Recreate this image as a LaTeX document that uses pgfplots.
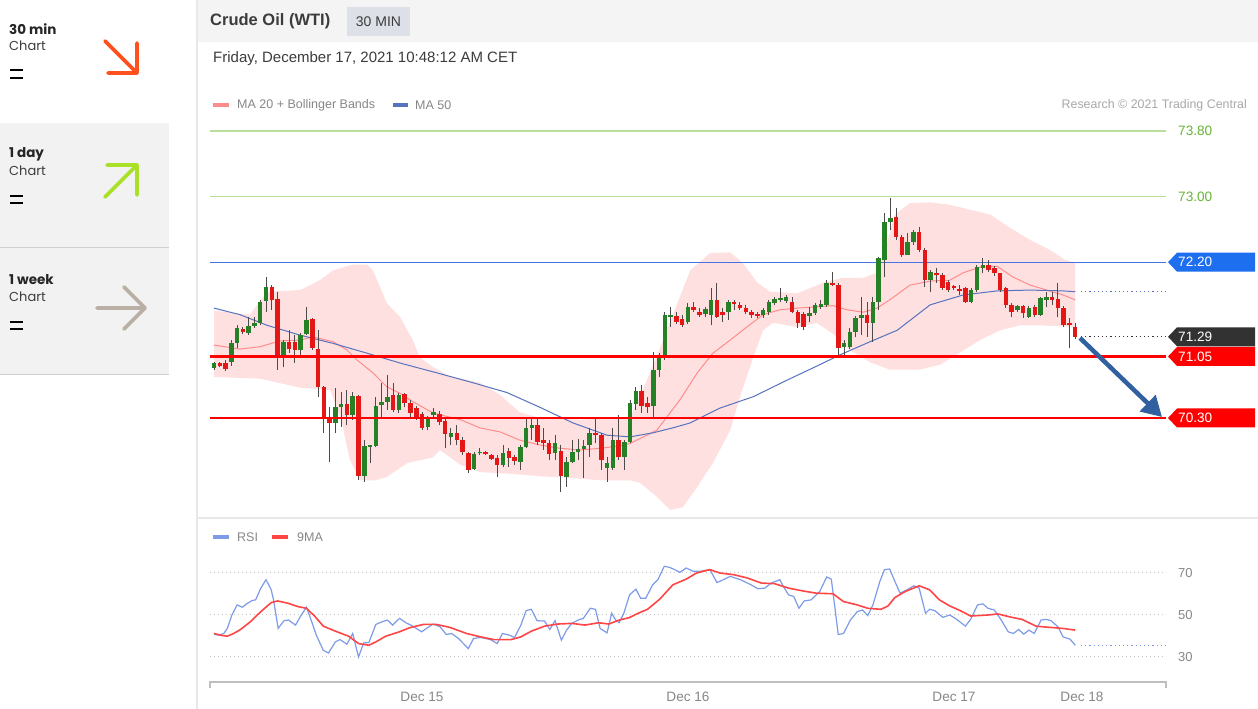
\documentclass[border=0pt]{standalone}
\usepackage{fontspec}
\setmainfont{Liberation Sans}
\newfontfamily\pop{Poppins}
\usepackage{pgfplots}
\pgfplotsset{compat=1.18}
\usepackage{pgfplotstable}
\usetikzlibrary{arrows.meta}
\newcommand{\fs}[1]{\fontsize{#1}{#1}\selectfont}

\definecolor{cgreen}{RGB}{38,128,38}
\definecolor{cred}{RGB}{228,22,22}
\definecolor{cwick}{RGB}{75,75,75}
\definecolor{bbfill}{RGB}{255,224,224}
\definecolor{ma20}{RGB}{255,140,140}
\definecolor{ma50}{RGB}{85,115,190}
\definecolor{lgreen}{RGB}{185,224,155}
\definecolor{tgreen}{RGB}{105,180,55}
\definecolor{lblue}{RGB}{70,115,225}
\definecolor{bblue}{RGB}{30,110,240}
\definecolor{dbox}{RGB}{50,50,50}
\definecolor{rline}{RGB}{255,0,0}
\definecolor{arrowc}{RGB}{48,96,160}
\definecolor{rsi}{RGB}{125,155,232}
\definecolor{nma}{RGB}{255,70,70}
\definecolor{txt}{RGB}{60,60,60}
\definecolor{gtxt}{RGB}{135,135,135}
\definecolor{ltxt}{RGB}{168,168,168}
\definecolor{gridc}{RGB}{195,195,195}
\definecolor{panel}{RGB}{242,242,242}
\definecolor{hdr}{RGB}{244,244,245}
\definecolor{tagbg}{RGB}{221,224,230}
\definecolor{sepc}{RGB}{208,208,208}
\definecolor{vline}{RGB}{232,232,232}
\definecolor{axc}{RGB}{190,190,190}
\definecolor{aorange}{RGB}{255,80,30}
\definecolor{agreen}{RGB}{170,225,40}
\definecolor{agrey}{RGB}{185,175,165}

% all candles: index, open, high, low, close
\pgfplotstableread{
i o h l c
0 70.91 70.98 70.89 70.97
1 70.97 70.98 70.92 70.93
2 70.97 71.01 70.87 70.90
3 70.98 71.25 70.93 71.21
4 71.21 71.43 71.15 71.40
5 71.39 71.41 71.32 71.35
6 71.34 71.53 71.31 71.42
7 71.42 71.53 71.40 71.46
8 71.46 71.74 71.43 71.71
9 71.73 72.02 71.59 71.90
10 71.90 71.92 71.62 71.74
11 71.75 71.84 70.89 71.04
12 71.07 71.25 70.92 71.23
13 71.23 71.37 71.09 71.14
14 71.23 71.31 70.97 71.13
15 71.13 71.34 71.07 71.31
16 71.32 71.65 71.31 71.50
17 71.51 71.52 71.13 71.15
18 71.14 71.37 70.56 70.68
19 70.68 70.69 70.12 70.30
20 70.31 70.43 69.76 70.24
21 70.24 70.67 70.12 70.43
22 70.43 70.62 70.19 70.47
23 70.47 70.64 70.21 70.34
24 70.34 70.62 70.28 70.57
25 70.57 70.58 69.54 69.59
26 69.59 70.03 69.52 69.96
27 69.95 69.97 69.75 69.97
28 69.96 70.56 69.95 70.45
29 70.46 70.73 70.31 70.50
30 70.50 70.82 70.40 70.56
31 70.58 70.73 70.37 70.40
32 70.40 70.61 70.36 70.58
33 70.59 70.61 70.43 70.48
34 70.48 70.52 70.31 70.36
35 70.42 70.45 70.28 70.31
36 70.35 70.37 70.15 70.18
37 70.19 70.32 70.15 70.29
38 70.34 70.42 70.31 70.37
39 70.35 70.38 70.21 70.25
40 70.26 70.31 69.93 70.10
41 70.07 70.18 69.97 70.12
42 70.12 70.21 69.97 70.03
43 70.03 70.07 69.85 69.88
44 69.87 69.88 69.63 69.67
45 69.68 69.88 69.67 69.86
46 69.87 69.93 69.85 69.88
47 69.88 69.90 69.85 69.86
48 69.85 69.86 69.79 69.80
49 69.81 69.85 69.58 69.73
50 69.73 69.97 69.70 69.87
51 69.90 69.93 69.70 69.81
52 69.82 69.85 69.73 69.78
53 69.76 69.97 69.67 69.95
54 69.95 70.30 69.93 70.18
55 70.18 70.29 70.03 70.21
56 70.21 70.30 69.97 70.01
57 70.03 70.18 69.91 69.99
58 69.99 70.03 69.79 69.86
59 69.87 70.09 69.79 69.99
60 69.90 69.97 69.40 69.59
61 69.58 69.82 69.46 69.76
62 69.76 70.03 69.75 69.88
63 69.88 70.04 69.79 69.92
64 69.92 70.03 69.57 69.96
65 69.97 70.18 69.82 70.12
66 70.12 70.30 69.99 70.09
67 70.09 70.12 69.67 69.79
68 69.69 69.82 69.52 69.75
69 69.69 70.18 69.67 70.03
70 70.03 70.34 69.79 69.82
71 69.82 70.03 69.67 70.01
72 70.01 70.52 69.99 70.48
73 70.47 70.68 70.40 70.63
74 70.63 70.70 70.36 70.45
75 70.48 70.56 70.36 70.43
76 70.45 71.10 70.31 70.89
77 70.89 71.09 70.80 71.03
78 71.03 71.59 71.01 71.56
79 71.53 71.65 71.41 71.56
80 71.54 71.59 71.45 71.47
81 71.51 71.56 71.41 71.43
82 71.47 71.70 71.45 71.65
83 71.65 71.71 71.59 71.62
84 71.59 71.64 71.53 71.56
85 71.57 71.65 71.53 71.63
86 71.56 71.89 71.43 71.74
87 71.74 71.95 71.52 71.53
88 71.59 71.64 71.47 71.56
89 71.59 71.74 71.50 71.71
90 71.71 71.74 71.62 71.69
91 71.68 71.71 71.62 71.64
92 71.64 71.68 71.57 71.59
93 71.59 71.62 71.52 71.56
94 71.57 71.59 71.52 71.54
95 71.56 71.64 71.52 71.62
96 71.59 71.74 71.56 71.71
97 71.70 71.78 71.68 71.75
98 71.74 71.89 71.71 71.76
99 71.73 71.80 71.70 71.78
100 71.71 71.78 71.58 71.59
101 71.59 71.62 71.40 71.46
102 71.57 71.59 71.37 71.41
103 71.54 71.65 71.47 71.58
104 71.58 71.70 71.56 71.68
105 71.65 71.74 71.63 71.69
106 71.68 71.98 71.65 71.95
107 71.95 72.08 71.91 71.92
108 71.92 71.95 71.04 71.15
109 71.17 71.25 71.04 71.21
110 71.17 71.40 71.14 71.35
111 71.35 71.54 71.29 71.52
112 71.52 71.78 71.31 71.56
113 71.56 71.71 71.29 71.46
114 71.46 71.78 71.23 71.71
115 71.71 72.26 71.62 72.25
116 72.23 72.80 72.02 72.69
117 72.69 72.98 72.59 72.74
118 72.75 72.86 72.47 72.51
119 72.51 72.53 72.26 72.29
120 72.29 72.56 72.29 72.45
121 72.45 72.59 72.41 72.57
122 72.57 72.63 72.32 72.35
123 72.35 72.37 71.90 71.98
124 71.98 72.10 71.84 72.08
125 72.07 72.13 71.95 72.04
126 72.04 72.07 71.86 71.89
127 71.96 71.98 71.84 71.86
128 71.91 71.92 71.86 71.89
129 71.87 71.92 71.80 71.85
130 71.89 71.90 71.70 71.71
131 71.71 71.89 71.70 71.86
132 71.86 72.17 71.84 72.14
133 72.13 72.25 72.07 72.17
134 72.17 72.23 72.08 72.11
135 72.13 72.15 72.03 72.07
136 72.07 72.07 71.84 71.86
137 71.89 71.90 71.64 71.68
138 71.68 71.70 71.53 71.59
139 71.62 71.68 71.59 71.67
140 71.67 71.68 71.52 71.58
141 71.53 71.67 71.52 71.64
142 71.65 71.68 71.53 71.56
143 71.56 71.78 71.54 71.76
144 71.74 71.84 71.65 71.78
145 71.78 71.84 71.68 71.74
146 71.75 71.95 71.53 71.64
147 71.64 71.67 71.41 71.43
148 71.46 71.52 71.15 71.43
149 71.41 71.46 71.26 71.29
}\candles

% rising candles (close >= open): index, open, close
\pgfplotstableread{
i o c
0 70.91 70.97
3 70.98 71.21
4 71.21 71.40
6 71.34 71.42
7 71.42 71.46
8 71.46 71.71
9 71.73 71.90
12 71.07 71.23
15 71.13 71.31
16 71.32 71.50
21 70.24 70.43
22 70.43 70.47
24 70.34 70.57
26 69.59 69.96
27 69.95 69.97
28 69.96 70.45
29 70.46 70.50
30 70.50 70.56
32 70.40 70.58
37 70.19 70.29
38 70.34 70.37
41 70.07 70.12
45 69.68 69.86
46 69.87 69.88
50 69.73 69.87
53 69.76 69.95
54 69.95 70.18
55 70.18 70.21
59 69.87 69.99
61 69.58 69.76
62 69.76 69.88
63 69.88 69.92
64 69.92 69.96
65 69.97 70.12
68 69.69 69.75
69 69.69 70.03
71 69.82 70.01
72 70.01 70.48
73 70.47 70.63
76 70.45 70.89
77 70.89 71.03
78 71.03 71.56
79 71.53 71.56
82 71.47 71.65
85 71.57 71.63
86 71.56 71.74
89 71.59 71.71
95 71.56 71.62
96 71.59 71.71
97 71.70 71.75
98 71.74 71.76
99 71.73 71.78
103 71.54 71.58
104 71.58 71.68
105 71.65 71.69
106 71.68 71.95
109 71.17 71.21
110 71.17 71.35
111 71.35 71.52
112 71.52 71.56
114 71.46 71.71
115 71.71 72.25
116 72.23 72.69
117 72.69 72.74
120 72.29 72.45
121 72.45 72.57
124 71.98 72.08
131 71.71 71.86
132 71.86 72.14
133 72.13 72.17
139 71.62 71.67
141 71.53 71.64
143 71.56 71.76
144 71.74 71.78
}\upc

% falling candles (close < open): index, open, close
\pgfplotstableread{
i o c
1 70.97 70.93
2 70.97 70.90
5 71.39 71.35
10 71.90 71.74
11 71.75 71.04
13 71.23 71.14
14 71.23 71.13
17 71.51 71.15
18 71.14 70.68
19 70.68 70.30
20 70.31 70.24
23 70.47 70.34
25 70.57 69.59
31 70.58 70.40
33 70.59 70.48
34 70.48 70.36
35 70.42 70.31
36 70.35 70.18
39 70.35 70.25
40 70.26 70.10
42 70.12 70.03
43 70.03 69.88
44 69.87 69.67
47 69.88 69.86
48 69.85 69.80
49 69.81 69.73
51 69.90 69.81
52 69.82 69.78
56 70.21 70.01
57 70.03 69.99
58 69.99 69.86
60 69.90 69.59
66 70.12 70.09
67 70.09 69.79
70 70.03 69.82
74 70.63 70.45
75 70.48 70.43
80 71.54 71.47
81 71.51 71.43
83 71.65 71.62
84 71.59 71.56
87 71.74 71.53
88 71.59 71.56
90 71.71 71.69
91 71.68 71.64
92 71.64 71.59
93 71.59 71.56
94 71.57 71.54
100 71.71 71.59
101 71.59 71.46
102 71.57 71.41
107 71.95 71.92
108 71.92 71.15
113 71.56 71.46
118 72.75 72.51
119 72.51 72.29
122 72.57 72.35
123 72.35 71.98
125 72.07 72.04
126 72.04 71.89
127 71.96 71.86
128 71.91 71.89
129 71.87 71.85
130 71.89 71.71
134 72.17 72.11
135 72.13 72.07
136 72.07 71.86
137 71.89 71.68
138 71.68 71.59
140 71.67 71.58
142 71.65 71.56
145 71.78 71.74
146 71.75 71.64
147 71.64 71.43
148 71.46 71.43
149 71.41 71.29
}\downc

\begin{document}
\begin{tikzpicture}
\begin{scope}[x=1pt,y=1pt]
\path[use as bounding box] (0,0) rectangle (1258,709);
\fill[white] (0,0) rectangle (1258,709);
% ---------- left sidebar ----------
\fill[panel] (0,334) rectangle (169,586);
\draw[sepc, line width=1pt] (0,461) -- (169,461);
\draw[sepc, line width=1pt] (0,334) -- (169,334);
\draw[vline, line width=2pt] (197,0) -- (197,709);
\node[anchor=west, inner sep=0, font=\pop\bfseries\fs{13.5pt}, text=black!85] at (9,680) {30 min};
\node[anchor=west, inner sep=0, font=\pop\fs{13pt}, text=txt] at (9,663) {Chart};
\draw[black, line width=2pt] (10,638.5) -- (23,638.5) (10,631) -- (23,631);
\node[anchor=west, inner sep=0, font=\pop\bfseries\fs{13.5pt}, text=black!85] at (9,555) {1 day};
\node[anchor=west, inner sep=0, font=\pop\fs{13pt}, text=txt] at (9,538) {Chart};
\draw[black, line width=2pt] (10,513) -- (23,513) (10,505.5) -- (23,505.5);
\node[anchor=west, inner sep=0, font=\pop\bfseries\fs{13.5pt}, text=black!85] at (9,429) {1 week};
\node[anchor=west, inner sep=0, font=\pop\fs{13pt}, text=txt] at (9,412) {Chart};
\draw[black, line width=2pt] (10,387) -- (23,387) (10,379.5) -- (23,379.5);
\draw[aorange, line width=3.8pt, line cap=round, line join=round] (105,668) -- (137,636) (108,636) -- (137,636) -- (137,666);
\draw[agreen, line width=3.8pt, line cap=round, line join=round] (105,512) -- (137,544) (107,544) -- (137,544) -- (137,514);
\draw[agrey, line width=3.8pt, line cap=round, line join=round] (97,401) -- (145,401) (124,422) -- (145,401) -- (124,380);
% ---------- header ----------
\fill[hdr] (198,667) rectangle (1258,709);
\node[anchor=west, inner sep=0, font=\bfseries\fs{16.5pt}, text=txt] at (210,688) {Crude Oil (WTI)};
\fill[tagbg] (347,673) rectangle (410,702);
\node[inner sep=0, font=\fs{14pt}, text=txt] at (378.5,687.5) {30 MIN};
\node[anchor=west, inner sep=0, font=\fs{15pt}, text=txt] at (213,650) {Friday, December 17, 2021 10:48:12 AM CET};
% legend main
\fill[ma20] (213,602) rectangle (229,606);
\node[anchor=west, inner sep=0, font=\fs{12.5pt}, text=gtxt] at (237,603.5) {MA 20 + Bollinger Bands};
\fill[ma50] (393,602) rectangle (408,606);
\node[anchor=west, inner sep=0, font=\fs{12.5pt}, text=gtxt] at (415,603.5) {MA 50};
\node[anchor=east, inner sep=0, font=\fs{12.4pt}, text=ltxt] at (1247,603.5) {Research © 2021 Trading Central};
% separator
\draw[vline, line width=1.5pt] (198,191) -- (1258,191);
% legend RSI
\fill[rsi] (213,170) rectangle (229,174);
\node[anchor=west, inner sep=0, font=\fs{12.5pt}, text=gtxt] at (237,172) {RSI};
\fill[nma] (272,170) rectangle (288,174);
\node[anchor=west, inner sep=0, font=\fs{12.5pt}, text=gtxt] at (297,172) {9MA};
\end{scope}

% ---------- main price axis ----------
\begin{axis}[at={(210pt,194pt)}, anchor=south west, scale only axis,
  width=956pt, height=430pt,
  xmin=-0.692, xmax=164.706, ymin=69.1171, ymax=74.3610,
  hide axis, clip=false]
% Bollinger band
\addplot[fill=bbfill, draw=none] coordinates {
(0,71.61) (6.2,71.56) (9.2,71.84) (14.9,71.86) (18.3,71.98) (20.6,72.10) (24.0,72.17) (26.5,72.17) (27.5,72.10) (29.9,71.70) (32.2,71.53) (34.4,71.25) (35.6,71.04) (37.9,70.92) (40.8,70.81) (46.0,70.73) (49.5,70.58) (52.9,70.37) (56.4,70.30) (63.3,70.28) (68.5,70.30) (72.0,70.31) (74.9,70.76) (77.7,71.25) (80.6,71.78) (82.4,72.10) (85.8,72.31) (89.3,72.32) (91.5,72.19) (94.0,71.95) (96.2,71.84) (100.9,71.82) (105.4,71.95) (108.8,72.01) (112.3,72.01) (114.7,72.07) (116.1,72.35) (117.8,72.78) (120.4,72.92) (123.9,72.93) (127.3,72.90) (130.8,72.84) (134.3,72.78) (137.7,72.62) (141.2,72.47) (144.6,72.35) (147.2,72.23) (149.0,72.19)
(149.0,71.41) (146.4,71.42) (142.9,71.43) (139.4,71.43) (136.0,71.37) (132.5,71.25) (129.1,71.10) (125.6,70.95) (122.1,70.89) (116.9,70.89) (113.5,70.98) (110.0,71.13) (107.4,71.31) (104.3,71.46) (100.9,71.41) (96.7,71.46) (95.0,71.37) (93.3,71.04) (91.0,70.56) (89.3,70.15) (86.3,69.75) (83.6,69.46) (81.1,69.21) (78.9,69.18) (76.6,69.34) (73.7,69.51) (72.0,69.54) (66.8,69.54) (61.6,69.57) (56.4,69.59) (51.2,69.62) (46.0,69.64) (42.6,69.73) (39.1,69.91) (37.9,69.82) (33.4,69.75) (29.9,69.58) (27.9,69.54) (25.3,69.54) (23.5,69.79) (22.0,70.28) (20.1,70.64) (14.9,70.67) (8.0,70.78) (0,70.80) (0,71.61)};
% MA 20
\addplot[ma20, line width=1pt] coordinates {
(0,71.19) (4.5,71.14) (8.0,71.17) (11.4,71.24) (14.9,71.25) (17.1,71.29) (20.6,71.23) (23.0,71.13) (24.7,71.01) (27.5,70.85) (29.9,70.68) (32.2,70.60) (34.4,70.50) (37.9,70.36) (42.6,70.28) (46.0,70.18) (49.5,70.13) (52.9,70.03) (56.4,69.97) (59.9,69.93) (63.3,69.91) (66.8,69.93) (70.2,69.96) (72.0,69.99) (76.6,70.15) (80.6,70.52) (83.6,70.85) (86.3,71.09) (89.3,71.25) (92.2,71.41) (95.0,71.56) (97.9,71.62) (100.9,71.64) (107.1,71.67) (109.5,71.62) (112.3,71.59) (114.7,71.64) (116.9,71.74) (120.4,71.92) (123.9,71.97) (127.3,71.98) (129.6,72.07) (132.5,72.14) (135.5,72.15) (138.2,72.02) (141.2,71.92) (144.1,71.86) (146.9,71.80) (149.0,71.74)};
% MA 50
\addplot[ma50, line width=1pt] coordinates {
(0,71.64) (4.5,71.56) (9.2,71.43) (14.9,71.31) (20.6,71.21) (26.5,71.09) (32.2,70.97) (39.1,70.84) (44.8,70.73) (50.7,70.61) (56.4,70.43) (62.1,70.24) (68.0,70.09) (72.0,70.07) (76.0,70.12) (79.4,70.18) (82.4,70.24) (87.5,70.42) (93.3,70.56) (99.1,70.76) (104.8,70.95) (108.3,71.07) (113.5,71.23) (118.2,71.37) (123.9,71.68) (129.6,71.80) (135.5,71.85) (141.2,71.86) (146.9,71.85) (149.0,71.84)};
\addplot[ma50, line width=1pt, dash pattern=on 1.2pt off 3pt] coordinates {(150.0,71.84) (164.706,71.84)};
\addplot[dbox, line width=1pt, dash pattern=on 1.2pt off 3pt] coordinates {(150.0,71.29) (164.706,71.29)};
% levels
\addplot[lgreen, line width=1.4pt] coordinates {(-0.692,73.8) (164.706,73.8)};
\addplot[lgreen, line width=1.4pt] coordinates {(-0.692,73.0) (164.706,73.0)};
\addplot[lblue, line width=1.3pt] coordinates {(-0.692,72.2) (164.706,72.2)};
% candles: wicks
\addplot[draw=none, mark=none, forget plot,
  error bars/.cd, y dir=plus, y explicit, error mark=none,
  error bar style={line width=1pt, draw=cwick, solid}]
  table[x=i, y=l, y error plus expr={\thisrow{h}-\thisrow{l}}] {\candles};
% candles: rising bodies
\addplot[draw=none, mark=none, forget plot,
  error bars/.cd, y dir=plus, y explicit, error mark=none,
  error bar style={line width=4.5pt, draw=cgreen, solid}]
  table[x=i, y=o, y error plus expr={max(\thisrow{c}-\thisrow{o},0.014)}] {\upc};
% candles: falling bodies
\addplot[draw=none, mark=none, forget plot,
  error bars/.cd, y dir=plus, y explicit, error mark=none,
  error bar style={line width=4.5pt, draw=cred, solid}]
  table[x=i, y=c, y error plus expr={max(\thisrow{o}-\thisrow{c},0.014)}] {\downc};
% red support lines
\addplot[rline, line width=2.6pt] coordinates {(-0.692,71.05) (164.706,71.05)};
\addplot[rline, line width=2.6pt] coordinates {(-0.692,70.30) (164.706,70.30)};
\end{axis}

% ---------- RSI axis ----------
\begin{axis}[at={(210pt,27pt)}, anchor=south west, scale only axis,
  width=956pt, height=122pt,
  xmin=-0.692, xmax=164.706, ymin=18.095, ymax=76.19,
  hide axis, clip=false]
\addplot[gridc, line width=1pt, dash pattern=on 1pt off 3pt] coordinates {(-0.692,70) (164.706,70)};
\addplot[gridc, line width=1pt, dash pattern=on 1pt off 3pt] coordinates {(-0.692,50) (164.706,50)};
\addplot[gridc, line width=1pt, dash pattern=on 1pt off 3pt] coordinates {(-0.692,30) (164.706,30)};
\addplot[rsi, line width=1.2pt] coordinates {
(0,40.9) (0.8,40.4) (1.7,41.2) (2.3,43.6) (3.1,50.0) (4.0,54.8) (4.9,53.7) (5.8,55.6) (6.6,56.9) (7.2,57.2) (8.1,62.8) (9.0,66.8) (9.9,62.0) (10.3,57.2) (11.1,43.6) (12.1,47.3) (12.9,47.6) (14.1,45.2) (15.1,50.0) (16.0,53.7) (16.6,49.2) (17.7,40.4) (18.9,33.2) (19.8,31.9) (21.0,37.2) (21.8,38.3) (23.0,36.1) (24.0,41.2) (25.0,30.0) (25.9,36.7) (26.8,36.9) (28.0,45.5) (29.1,46.8) (30.0,47.6) (30.9,45.2) (32.1,48.4) (33.2,46.3) (34.4,44.7) (35.9,42.0) (37.9,45.7) (39.1,44.4) (40.2,40.7) (41.1,41.2) (42.3,38.8) (44.0,34.0) (44.9,38.8) (46.1,39.3) (47.8,38.3) (49.0,36.4) (49.9,41.2) (51.1,40.4) (52.0,39.3) (53.1,45.2) (54.0,52.1) (54.9,52.7) (55.9,47.3) (57.2,47.1) (58.1,43.1) (59.0,47.3) (60.1,38.0) (61.0,42.8) (61.9,46.0) (63.0,47.6) (63.9,48.4) (65.1,53.2) (66.0,52.7) (66.8,43.6) (68.0,41.5) (68.8,50.8) (69.5,47.6) (70.1,46.3) (70.9,50.8) (71.9,59.6) (73.0,62.3) (73.8,58.0) (74.7,58.0) (75.9,64.4) (76.8,66.8) (77.9,73.2) (78.8,72.7) (79.7,71.6) (80.6,70.3) (81.7,72.4) (82.9,70.8) (84.1,70.8) (85.8,71.6) (87.0,65.5) (87.5,66.0) (89.3,68.4) (91.1,66.8) (92.9,64.4) (94.1,62.5) (95.3,62.8) (96.4,65.2) (97.9,66.8) (98.5,63.6) (99.4,59.6) (100.3,58.8) (101.2,53.2) (102.1,56.7) (103.3,57.2) (104.8,61.2) (106.0,68.1) (106.8,67.1) (108.0,40.7) (108.9,41.2) (110.1,47.6) (111.3,51.6) (112.2,52.4) (113.1,49.7) (114.0,54.8) (115.2,66.0) (116.0,71.6) (116.9,71.9) (117.8,66.0) (118.7,60.4) (119.9,62.0) (121.1,63.9) (122.0,62.8) (123.1,50.8) (123.8,52.7) (124.7,52.1) (126.1,48.9) (127.3,50.0) (128.5,47.9) (130.0,44.7) (130.9,47.9) (132.1,54.8) (133.0,55.3) (133.9,53.2) (135.0,52.4) (136.2,47.6) (137.4,42.0) (138.3,41.2) (139.2,43.1) (140.1,40.9) (141.0,42.8) (141.9,41.2) (143.1,47.6) (144.0,47.9) (144.8,47.3) (146.0,44.4) (146.9,39.6) (148.1,38.5) (149.0,35.6)};
\addplot[rsi, line width=1.2pt, dash pattern=on 1.2pt off 3pt] coordinates {(150.0,35.5) (164.706,35.5)};
\addplot[nma, line width=1.6pt] coordinates {
(0,41.2) (1.1,40.4) (2.3,39.9) (3.4,41.2) (4.6,43.1) (6.3,46.8) (8.1,51.6) (9.9,55.9) (11.0,56.7) (12.8,55.6) (14.5,54.0) (16.0,53.2) (17.5,49.2) (18.9,44.7) (21.0,42.3) (23.3,39.9) (25.0,36.4) (26.8,35.6) (28.0,37.2) (29.7,39.9) (32.1,42.0) (33.8,43.9) (36.2,45.5) (38.5,45.5) (40.8,44.1) (43.7,41.2) (46.1,39.6) (48.4,38.3) (51.4,38.3) (53.1,39.6) (54.9,42.3) (57.2,44.7) (59.5,45.7) (61.9,46.0) (64.2,45.2) (66.5,46.3) (68.3,45.7) (70.1,47.6) (71.8,48.7) (73.6,51.1) (75.0,52.7) (77.1,57.5) (79.4,64.4) (81.7,67.1) (83.5,70.0) (85.8,71.6) (87.5,70.0) (89.9,69.2) (92.3,67.6) (94.7,65.2) (97.0,64.9) (99.4,62.8) (101.8,61.5) (104.2,60.4) (107.1,60.1) (108.9,56.4) (111.3,54.8) (113.1,53.2) (115.4,52.7) (116.6,54.3) (117.8,58.3) (119.6,61.2) (122.0,63.9) (123.8,62.0) (125.5,57.2) (127.3,54.3) (129.1,52.1) (130.9,49.5) (133.9,50.0) (135.6,50.5) (138.0,48.9) (139.8,47.9) (142.2,44.7) (144.6,44.1) (146.9,43.6) (149.0,42.8)};
\addplot[axc, line width=1.5pt] coordinates {(-0.692,15.0) (-0.692,18.095) (164.706,18.095) (164.706,15.0)};
\end{axis}

% ---------- annotations ----------
\begin{scope}[x=1pt,y=1pt]
\draw[arrowc, line width=4.5pt, -{Triangle[length=20pt,width=22pt]}] (1080,371) -- (1162,292);
\node[anchor=west, inner sep=0, font=\fs{13.6pt}, text=tgreen] at (1178,578) {73.80};
\node[anchor=west, inner sep=0, font=\fs{13.6pt}, text=tgreen] at (1178,512.4) {73.00};
\fill[bblue] (1168,446.8) -- (1177,456.3) -- (1255,456.3) -- (1255,437.3) -- (1177,437.3) -- cycle;
\node[anchor=west, inner sep=0, font=\fs{13.6pt}, text=white] at (1178,446.8) {72.20};
\fill[dbox] (1168,372.2) -- (1177,381.7) -- (1255,381.7) -- (1255,362.7) -- (1177,362.7) -- cycle;
\node[anchor=west, inner sep=0, font=\fs{13.6pt}, text=white] at (1178,372.2) {71.29};
\fill[rline] (1168,352.5) -- (1177,362) -- (1255,362) -- (1255,343) -- (1177,343) -- cycle;
\node[anchor=west, inner sep=0, font=\fs{13.6pt}, text=white] at (1178,352.5) {71.05};
\fill[rline] (1168,291) -- (1177,300.5) -- (1255,300.5) -- (1255,281.5) -- (1177,281.5) -- cycle;
\node[anchor=west, inner sep=0, font=\fs{13.6pt}, text=white] at (1178,291) {70.30};
\node[anchor=west, inner sep=0, font=\fs{13pt}, text=gtxt] at (1178,136) {70};
\node[anchor=west, inner sep=0, font=\fs{13pt}, text=gtxt] at (1178,94) {50};
\node[anchor=west, inner sep=0, font=\fs{13pt}, text=gtxt] at (1178,52) {30};
\node[inner sep=0, font=\fs{13.6pt}, text=gtxt] at (422,12) {Dec 15};
\node[inner sep=0, font=\fs{13.6pt}, text=gtxt] at (688,12) {Dec 16};
\node[inner sep=0, font=\fs{13.6pt}, text=gtxt] at (954,12) {Dec 17};
\node[inner sep=0, font=\fs{13.6pt}, text=gtxt] at (1082,12) {Dec 18};
\end{scope}
\end{tikzpicture}
\end{document}
